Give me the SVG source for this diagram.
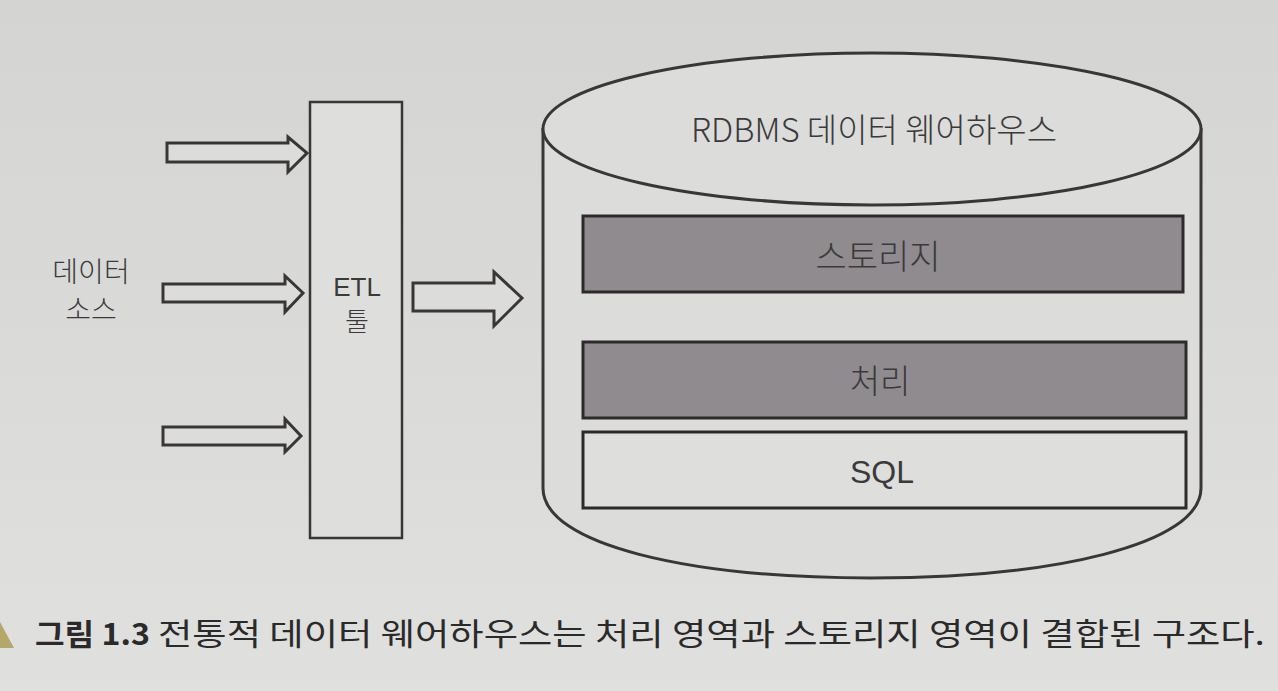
<svg xmlns="http://www.w3.org/2000/svg" width="1278" height="691" viewBox="0 0 1278 691">
<defs>
<linearGradient id="bg" x1="0" y1="0" x2="0" y2="1">
<stop offset="0" stop-color="#d4d4d2"/>
<stop offset="1" stop-color="#e0e0de"/>
</linearGradient>
</defs>
<style>
.ln{stroke:#3a3638;stroke-width:3;fill:none}
.arr{fill:#dcdcda;stroke:#3a3638;stroke-width:3;stroke-linejoin:miter}
.t{font-family:"Liberation Sans","Noto Sans CJK KR",sans-serif;fill:#3a3a3a;text-anchor:middle}
.k{font-family:"Noto Sans CJK KR","Liberation Sans",sans-serif;fill:#3a3a3a;text-anchor:middle;font-weight:300}
</style>
<rect width="1278" height="691" fill="url(#bg)"/>
<polygon points="0,622 14,648 0,648" fill="#b5a66a"/>

<g id="source">
<text class="k" x="91" y="282" font-size="28">데이터</text>
<text class="k" x="91" y="320" font-size="28">소스</text>
</g>

<g id="etl">
<rect x="310" y="102" width="92" height="436" fill="#dededc" stroke="#3a3638" stroke-width="2.5"/>
<text class="t" x="357" y="296" font-size="26">ETL</text>
<text class="k" x="357" y="331" font-size="26">툴</text>
</g>

<g id="warehouse">
<path d="M543,128 L543,488 C543,545 690,578 871,578 C1052,578 1201,545 1201,488 L1201,128" fill="#dcdcda" stroke="#3a3638" stroke-width="3"/>
<ellipse cx="872" cy="129" rx="329" ry="76" fill="#dcdcda" stroke="#3a3638" stroke-width="3"/>
<text class="k" x="874" y="142" font-size="33">RDBMS 데이터 웨어하우스</text>
</g>

<g id="storage">
<rect x="583" y="216" width="600" height="76" fill="#8f8b8e" stroke="#2e2a2c" stroke-width="3"/>
<text class="k" x="878" y="269" font-size="34">스토리지</text>
</g>

<g id="processing">
<rect x="583" y="342" width="603" height="76" fill="#8f8b8e" stroke="#2e2a2c" stroke-width="3"/>
<text class="k" x="880" y="393" font-size="33">처리</text>
</g>

<g id="sql">
<rect x="583" y="432" width="603" height="76" fill="#dededc" stroke="#2e2a2c" stroke-width="3"/>
<text class="t" x="882" y="483" font-size="32">SQL</text>
</g>

<g id="connectors">
<polygon class="arr" points="167,143 288,143 288,137 307,153 288,172 288,162 167,162"/>
<polygon class="arr" points="163,284 285,284 285,276 303,293 285,312 285,302 163,302"/>
<polygon class="arr" points="163,427 285,427 285,419 301,436 285,452 285,445 163,445"/>
<polygon class="arr" points="413,283 494,283 494,272 522,298 494,326 494,311 413,311"/>
</g>

<g id="caption">
<text x="35" y="645" font-family="Noto Sans CJK KR,Liberation Sans,sans-serif" font-size="30" font-weight="700" fill="#2a2a2a" textLength="115" lengthAdjust="spacingAndGlyphs">그림 1.3</text>
<text x="158" y="645" font-family="Noto Sans CJK KR,Liberation Sans,sans-serif" font-size="31" fill="#2a2a2a" textLength="1107" lengthAdjust="spacingAndGlyphs">전통적 데이터 웨어하우스는 처리 영역과 스토리지 영역이 결합된 구조다.</text>
</g>
</svg>
